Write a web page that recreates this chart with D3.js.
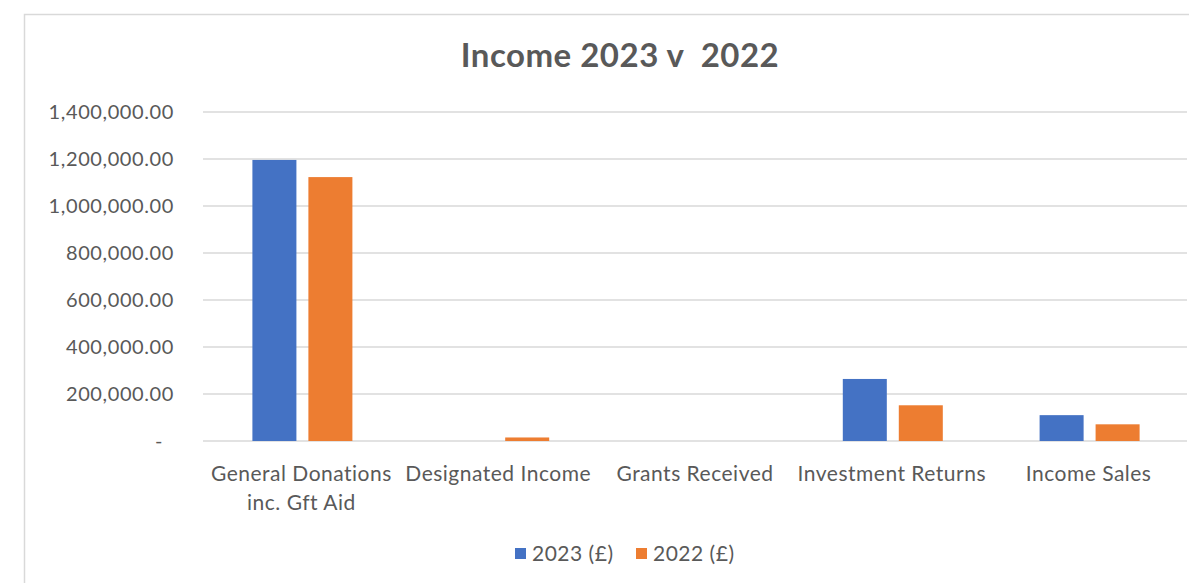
<!DOCTYPE html>
<html>
<head>
<meta charset="utf-8">
<script src="https://cdn.jsdelivr.net/npm/d3@7"></script>
<style>
  body { margin: 0; background: #fff; }
  text { font-family: Lato, "Open Sans", sans-serif; fill: #595959; }
</style>
</head>
<body>
<div id="chart"></div>
<script>
// data
const categories = ["General Donations inc. Gft Aid", "Designated Income", "Grants Received", "Investment Returns", "Income Sales"];
const categoryLines = [["General Donations", "inc. Gft Aid"], ["Designated Income"], ["Grants Received"], ["Investment Returns"], ["Income Sales"]];
const seriesNames = ["2023 (£)", "2022 (£)"];
const values2023 = [1196000, 0, 0, 264000, 110000];
const values2022 = [1123000, 15000, 0, 152000, 71000];
const yTicks = [0, 200000, 400000, 600000, 800000, 1000000, 1200000, 1400000];
const colors = ["#4472C4", "#ED7D31"];

const wSvg = 1189;
const hSvg = 583;
const plotLeft = 203;
const plotRight = 1187;
const plotTop = 112;
const plotBottom = 441;

const svg = d3.select("#chart")
    .append("svg")
    .attr("width", wSvg)
    .attr("height", hSvg);

// chart frame
svg.append("rect")
    .attr("x", 24.5).attr("y", 14.5)
    .attr("width", wSvg).attr("height", hSvg)
    .attr("fill", "none")
    .attr("stroke", "#d9d9d9")
    .attr("stroke-width", 1.5);

// scales
const xScale = d3.scaleBand(categories, [plotLeft, plotRight]);
const xInner = d3.scaleBand(seriesNames, [0, 100]).paddingInner(0.214);
const yScale = d3.scaleLinear([0, 1400000], [plotBottom, plotTop]);

// gridlines
svg.append("g")
    .selectAll("line")
    .data(yTicks)
    .enter()
    .append("line")
    .attr("x1", plotLeft).attr("x2", plotRight)
    .attr("y1", d => yScale(d)).attr("y2", d => yScale(d))
    .attr("stroke", "#d9d9d9")
    .attr("stroke-width", 1.5);

// y axis labels
const fmt = d3.format(",.2f");
const yAxis = svg.append("g")
    .attr("transform", `translate(174, 0)`)
    .call(d3.axisLeft(yScale).tickValues(yTicks).tickSize(0).tickPadding(0)
        .tickFormat(d => d === 0 ? "-" : fmt(d)));
yAxis.select(".domain").remove();
yAxis.selectAll("text")
    .attr("font-size", 20)
    .attr("letter-spacing", 0.6)
    .attr("fill", "#595959")
    .attr("font-family", "Lato, sans-serif")
    .attr("dx", d => d === 0 ? -11 : 0);

// bars
const rows = categories.map((c, i) => ({ cat: c, vals: [values2023[i], values2022[i]] }));
const groups = svg.selectAll("g.cat")
    .data(rows)
    .enter()
    .append("g")
    .attr("class", "cat")
    .attr("transform", d => `translate(${xScale(d.cat) + xScale.bandwidth() / 2 - 49}, 0)`);

groups.selectAll("rect")
    .data(d => d.vals.map((v, j) => ({ name: seriesNames[j], v: v, j: j })).filter(d => d.v > 0))
    .enter()
    .append("rect")
    .attr("x", d => xInner(d.name))
    .attr("y", d => yScale(d.v))
    .attr("width", xInner.bandwidth())
    .attr("height", d => plotBottom - yScale(d.v))
    .attr("fill", d => colors[d.j]);

// category labels
const xLabels = svg.append("g");
categories.forEach((c, i) => {
    const t = xLabels.append("text")
        .attr("x", xScale(c) + xScale.bandwidth() / 2)
        .attr("y", 481)
        .attr("text-anchor", "middle")
        .attr("letter-spacing", 0.5)
        .attr("font-size", 21);
    categoryLines[i].forEach((line, k) => {
        t.append("tspan")
            .attr("x", xScale(c) + xScale.bandwidth() / 2)
            .attr("dy", k === 0 ? 0 : 29)
            .text(line);
    });
});

// title
svg.append("text")
    .attr("x", 620)
    .attr("y", 67)
    .attr("text-anchor", "middle")
    .attr("font-size", 33)
    .attr("letter-spacing", 0.5)
    .attr("font-weight", "bold")
    .attr("xml:space", "preserve")
    .text("Income 2023 v  2022");

// legend
const legendX = [515, 636];
const legend = svg.append("g");
seriesNames.forEach((name, i) => {
    legend.append("rect")
        .attr("x", legendX[i]).attr("y", 548)
        .attr("width", 11).attr("height", 11)
        .attr("fill", colors[i]);
    legend.append("text")
        .attr("x", legendX[i] + 17).attr("y", 561)
        .attr("font-size", 21)
        .attr("letter-spacing", 0.5)
        .text(name);
});
</script>
</body>
</html>
